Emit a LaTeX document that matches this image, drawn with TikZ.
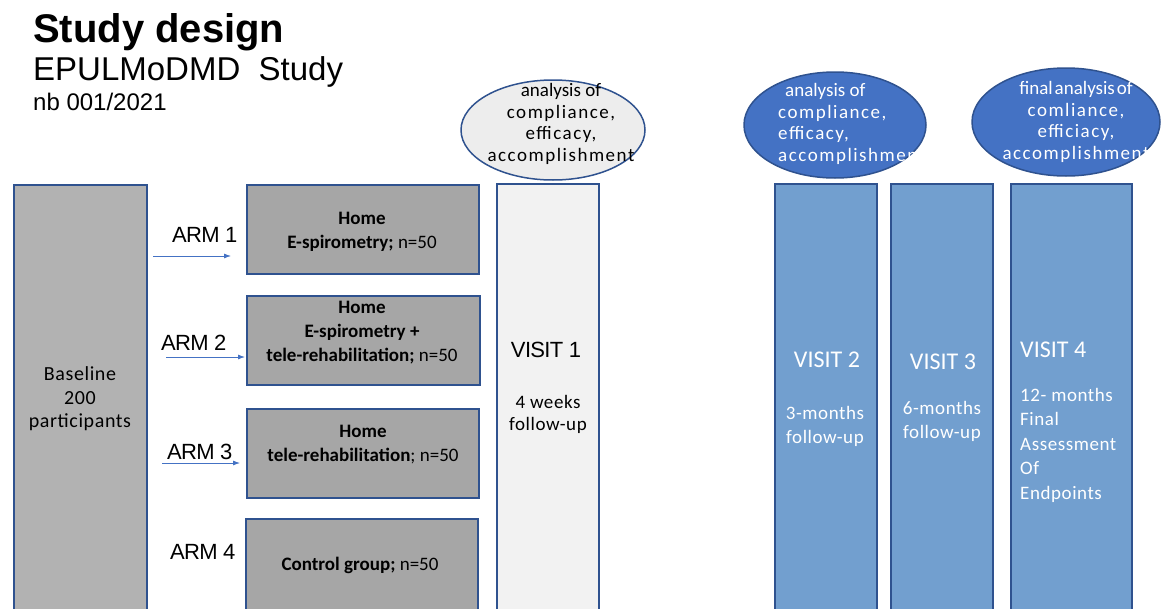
\documentclass[tikz,border=0pt]{standalone}
\usepackage{fontspec}
\setmainfont{Carlito}
\newfontfamily\arialfont{Liberation Sans}
\newfontfamily\armfont[LetterSpace=-3]{Liberation Sans}
\newfontfamily\spacedfont[LetterSpace=8]{Carlito}
\newfontfamily\widefont[LetterSpace=3]{Carlito}
\usetikzlibrary{shapes.geometric,arrows.meta,positioning}
\definecolor{boxBorder}{HTML}{2F528F}
\definecolor{armGray}{HTML}{A6A6A6}
\definecolor{baseGray}{HTML}{B2B2B2}
\definecolor{visitLight}{HTML}{F2F2F2}
\definecolor{visitBlue}{HTML}{729FCF}
\definecolor{ovalBlue}{HTML}{4472C4}
\definecolor{ovalGray}{HTML}{EDEDED}
\definecolor{arrowBlue}{HTML}{4472C4}
\newcommand{\sz}[2]{\fontsize{#1}{#2}\selectfont}
% first oval line is set tight, the rest spaced out
\newcommand{\tightline}[1]{{\normalfont\sz{19}{21.5}#1}}

\tikzset{
    armbox/.style={draw=boxBorder, line width=2pt, fill=armGray, anchor=north west, inner sep=0pt},
    visitbox/.style={draw=boxBorder, line width=1.5pt, anchor=north west, inner sep=0pt},
    oval/.style={ellipse, draw=boxBorder, line width=1.5pt, inner sep=0pt},
    armtext/.style={font=\sz{19}{24}, align=center, inner sep=0pt},
    ovaltext/.style={font=\spacedfont\sz{19}{21.5}, inner sep=0pt},
    armlabel/.style={font=\armfont\sz{22}{24}, anchor=base west, inner sep=0pt},
    armarrow/.style={draw=arrowBlue, line width=0.8pt, -{Latex[length=7pt,width=5pt]}},
}

\begin{document}
\begin{tikzpicture}[x=1pt, y=-1pt]
    \useasboundingbox (0,0) rectangle (1162,608);
    \clip (0,0) rectangle (1162,608);
    % title
    \node[font=\arialfont\bfseries\sz{40}{44}, anchor=base west, inner sep=0pt] (title) at (33,42) {Study design};
    \node[font=\arialfont\sz{33}{36}, anchor=base west, inner sep=0pt] (study) at (33,80) {EPULMoDMD\ \ Study};
    \node[font=\arialfont\sz{24}{28}, anchor=base west, inner sep=0pt] (nb) at (33,110) {nb 001/2021};

    % baseline and arms
    \node[armbox, fill=baseGray, line width=1.5pt, minimum width=133, minimum height=440] (base) at (13,184) {};
    \node[armtext, font=\widefont\sz{20}{23.5}] (basetext) at (80,399) {Baseline\\200\\participants};
    \node[armbox, minimum width=232, minimum height=89] (arm1) at (246,184) {};
    \node[armbox, minimum width=233, minimum height=89] (arm2) at (246,295) {};
    \node[armbox, minimum width=232, minimum height=89] (arm3) at (246,408) {};
    \node[armbox, minimum width=232, minimum height=110] (arm4) at (245,518) {};
    \node[armtext] (arm1text) at (362,232) {\textbf{Home}\\\textbf{E-spirometry;} n=50};
    \node[armtext] (arm2text) at (362,333) {\textbf{Home}\\\textbf{E-spirometry +}\\\textbf{tele-rehabilitation;} n=50};
    \node[armtext] (arm3text) at (363,445) {\textbf{Home}\\\textbf{tele-rehabilitation}; n=50};
    \node[armtext] (arm4text) at (360,565) {\textbf{Control group;} n=50};

    \node[armlabel] (lab1) at (172,242) {ARM 1};
    \node[armlabel] (lab2) at (161,350) {ARM 2};
    \node[armlabel] (lab3) at (167,459) {ARM 3};
    \node[armlabel] (lab4) at (170,559) {ARM 4};
    \coordinate (a1s) at (153,256);
    \coordinate (a1e) at (231,256);
    \coordinate (a2s) at (166,357);
    \coordinate (a2e) at (245,357);
    \coordinate (a3s) at (162,463);
    \coordinate (a3e) at (240,463);
    \draw[armarrow] (a1s) -- (a1e);
    \draw[armarrow] (a2s) -- (a2e);
    \draw[armarrow] (a3s) -- (a3e);

    % visits
    \node[visitbox, fill=visitLight, minimum width=102, minimum height=440] (visit1) at (496,183) {};
    \node[visitbox, fill=visitBlue, minimum width=102, minimum height=440] (visit2) at (774,183) {};
    \node[visitbox, fill=visitBlue, minimum width=102, minimum height=440] (visit3) at (890,183) {};
    \node[visitbox, fill=visitBlue, minimum width=121, minimum height=440] (visit4) at (1010,183) {};

    \node[font=\armfont\sz{22}{24}, inner sep=0pt] (v1title) at (546,350) {VISIT 1};
    \node[armtext, font=\widefont\sz{19}{22}] (v1text) at (548,414) {4 weeks\\follow-up};
    \node[font=\sz{24}{28}, text=white, inner sep=0pt] (v2title) at (827,360) {VISIT 2};
    \node[armtext, font=\widefont\sz{19}{24}, text=white] (v2text) at (825,426) {3-months\\follow-up};
    \node[font=\sz{24}{28}, text=white, inner sep=0pt] (v3title) at (943,362) {VISIT 3};
    \node[armtext, font=\widefont\sz{19}{24}, text=white] (v3text) at (942,421) {6-months\\follow-up};
    \node[font=\sz{24}{28}, text=white, anchor=west, inner sep=0pt] (v4title) at (1020,350) {VISIT 4};
    \node[armtext, font=\widefont\sz{19}{24.5}, text=white, align=left, anchor=west] (v4text) at (1020,445)
        {12- months\\Final\\Assessment\\Of\\Endpoints};

    % analysis ovals
    \node[oval, fill=ovalGray, minimum width=184, minimum height=100] (oval1) at (553,130) {};
    \node[oval, fill=ovalBlue, minimum width=182, minimum height=106] (oval2) at (835,125) {};
    \node[oval, fill=ovalBlue, minimum width=188, minimum height=108] (oval3) at (1066,122) {};
    \node[ovaltext, align=center] (oval1text) at (561,124)
        {\tightline{analysis of}\\compliance,\\efficacy,\\accomplishment};
    \node[ovaltext, align=left, text=white, anchor=west] (oval2text) at (778,124)
        {\hspace{7pt}\tightline{analysis of}\\compliance,\\efficacy,\\accomplishment};
    \node[ovaltext, align=center, text=white] (oval3text) at (1076,122)
        {\tightline{final\hspace{2pt}analysis\hspace{2pt}of}\\comliance,\\efficiacy,\\accomplishment};
\end{tikzpicture}
\end{document}
